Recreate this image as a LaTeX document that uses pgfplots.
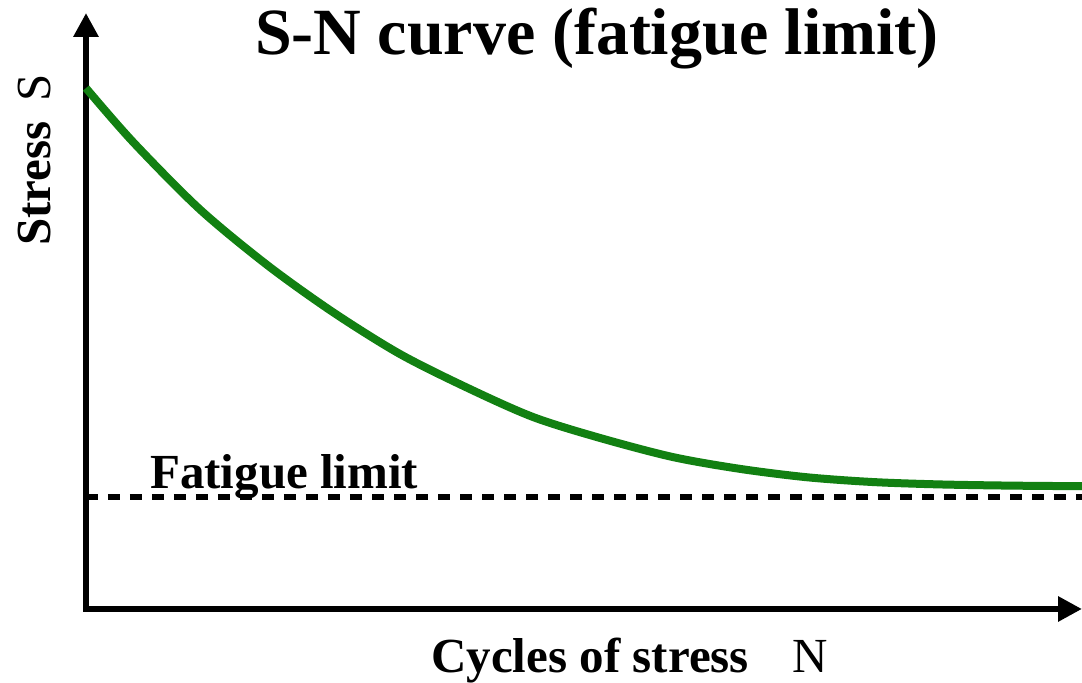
\documentclass[border=0pt]{standalone}
\usepackage{fontspec}
\setmainfont{Liberation Serif}
\usepackage{pgfplots}
\pgfplotsset{compat=1.18}
\usetikzlibrary{arrows.meta}
\definecolor{sngreen}{RGB}{18,128,18}
\begin{document}
\begin{tikzpicture}
\begin{axis}[
  scale only axis,
  width=498pt, height=298pt,
  xmin=0, xmax=10, ymin=0, ymax=10,
  axis lines=none,
  xtick=\empty, ytick=\empty,
  clip=false,
]
\draw[line width=3pt, line join=miter, {Triangle[length=12pt,width=12pt]}-{Triangle[length=12pt,width=12pt]}]
  (rel axis cs:0,1) -- (rel axis cs:0,0) -- (rel axis cs:1,0);
\addplot[sngreen, line width=4pt, smooth] coordinates {
  (0.00,8.74) (0.47,7.84) (1.14,6.71) (1.82,5.77) (2.48,4.98) (3.15,4.28)
  (3.83,3.71) (4.49,3.22) (5.16,2.87) (5.89,2.55) (6.57,2.35) (7.24,2.21)
  (7.90,2.13) (8.57,2.09) (9.28,2.07) (10.0,2.06)
};
\addplot[black, line width=2.6pt, dash pattern=on 6pt off 5pt] coordinates {(0,1.88) (10,1.88)};
\node[anchor=base, font=\fontsize{33}{38}\selectfont\bfseries] at (axis cs:5.13,9.30) {S-N curve (fatigue limit)};
\node[anchor=base west, inner sep=0pt, font=\fontsize{24.5}{28}\selectfont\bfseries] at (axis cs:0.64,2.03) {Fatigue limit};
\node[anchor=base, inner sep=0pt, font=\fontsize{24.5}{28}\selectfont] at (axis cs:5.46,-1.07) {\textbf{Cycles of stress}\hspace{22pt}N};
\node[anchor=base, inner sep=0pt, rotate=90, font=\fontsize{24.5}{28}\selectfont] at (axis cs:-0.36,7.53) {\textbf{Stress}\hspace{10pt}S};
\coordinate (bl) at (rel axis cs:0,0);
\coordinate (tr) at (rel axis cs:1,1);
\end{axis}
\pgfresetboundingbox
\path[use as bounding box] ([shift={(-43pt,-37pt)}]bl) rectangle ([shift={(0pt,6.5pt)}]tr);
\end{tikzpicture}
\end{document}
